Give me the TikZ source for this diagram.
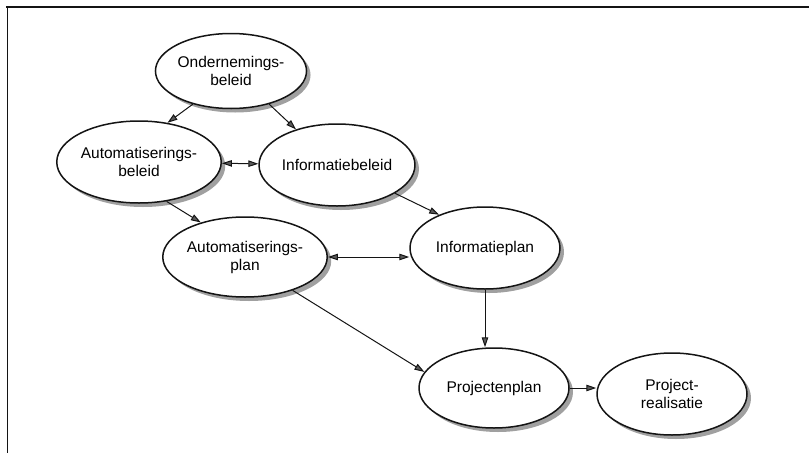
\documentclass[tikz,border=0pt]{standalone}
\usepackage{fontspec}
\setmainfont{Liberation Sans}
\usetikzlibrary{shapes.geometric, arrows.meta, shadows}
\definecolor{rand}{HTML}{141414}
\definecolor{schaduw}{HTML}{A0A0A0}
\definecolor{punt}{HTML}{5A5A5A}

\begin{document}
\begin{tikzpicture}[x=1pt, y=-1pt,
    >={Triangle[length=10pt, width=6.5pt, fill=punt]},
    ovaal/.style={ellipse, draw=rand, line width=1.5pt, fill=white,
                  minimum width=150pt, minimum height=82pt, inner sep=0pt,
                  align=center, font=\fontsize{15.5}{18}\selectfont,
                  drop shadow={shadow xshift=4pt, shadow yshift=-4pt,
                               fill=schaduw, opacity=1}},
    pijl/.style={draw=rand, line width=1pt, ->},
    dubbel/.style={draw=rand, line width=1pt, <->}]
			\useasboundingbox (0,0) rectangle (809,453);
			% kader
			\draw[rand, line width=1.6pt] (6,7) -- (809,7);
			\draw[rand, line width=1pt] (7,7) -- (7,453);

			\node[ovaal, minimum width=148pt, minimum height=75pt] (onder) at (231,71) {Ondernemings-\\beleid};
			\node[ovaal] (autob) at (139,162) {Automatiserings-\\beleid};
			\node[ovaal] (infob) at (337,165) {Informatiebeleid};
			\node[ovaal, minimum height=80pt] (autop) at (245,257) {Automatiserings-\\plan};
			\node[ovaal] (infop) at (485,248) {Informatieplan};
			\node[ovaal, minimum height=80pt] (projp) at (494,388) {Projectenplan};
			\node[ovaal] (projr) at (672,394) {Project-\\realisatie};

			\draw[pijl] (onder.221) -- (autob.54);
			\draw[pijl] (onder.319) -- (infob.139);
			\draw[dubbel] (autob) -- (infob);
			\draw[pijl] (autob.305) -- (autop.142);
			\draw[pijl] (infob.334) -- (infop.144);
			\draw[dubbel] (autop.east) -- (autop.east -| infop.west);
			\draw[pijl] (autop.325) -- (projp.167);
			\draw[pijl] (infop.south) -- (infop.south |- projp.north);
			\draw[pijl] (projp.east) -- (projp.east -| projr.west);
		\end{tikzpicture}
\end{document}
